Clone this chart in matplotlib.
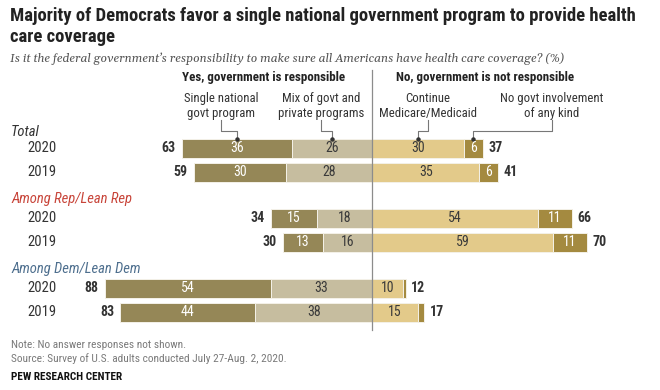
import matplotlib
matplotlib.use("Agg")
import matplotlib.pyplot as plt

# ---- data ----
groups = ["Total", "Among Rep/Lean Rep", "Among Dem/Lean Dem"]
years = ["2020", "2019"]
single = [36, 30, 15, 13, 54, 44]
mix = [26, 28, 18, 16, 33, 38]
cont = [30, 35, 54, 59, 10, 15]
nogovt = [6, 6, 11, 11, 1, 2]
yes_net = [63, 59, 34, 30, 88, 83]
no_net = [37, 41, 66, 70, 12, 17]
series_labels = ["Single national\ngovt program", "Mix of govt and\nprivate programs",
                 "Continue\nMedicare/Medicaid", "No govt involvement\nof any kind"]
headers = ["Yes, government is responsible", "No, government is not responsible"]
title_lines = ["Majority of Democrats favor a single national government program to provide health",
               "care coverage"]
subtitle = "Is it the federal government\u2019s responsibility to make sure all Americans have health care coverage? (%)"
note = "Note: No answer responses not shown."
source = "Source: Survey of U.S. adults conducted July 27-Aug. 2, 2020."
brand = "PEW RESEARCH CENTER"

# ---- layout ----
W, H = 660, 390
CX, SCALE = 372, 3.07           # pixel of zero line, pixels per percentage point
row_y = [148, 172, 218, 242, 288, 312]
group_y = [132, 199, 269]
BAR_H = 19

C_SINGLE = "#958757"
C_MIX = "#C6BD9F"
C_CONT = "#E3CA8A"
C_NOGOVT = "#A48A40"
SANS = "Roboto Condensed"

fig = plt.figure(figsize=(W / 100, H / 100), dpi=100)
ax = fig.add_axes([0, 0, 1, 1])
ax.set_xlim(-CX / SCALE, (W - CX) / SCALE)
ax.set_ylim(H, 0)
ax.axis("off")
renderer = fig.canvas.get_renderer()


def ftext(x, y, s, **kw):
    kw.setdefault("family", SANS)
    return fig.text(x / W, 1 - y / H, s, **kw)


def fit(t, width):
    fs = t.get_fontsize()
    w = t.get_window_extent(renderer).width
    t.set_fontsize(fs * width / w)
    return t.get_fontsize()


def px2d(x):
    return (x - CX) / SCALE


# bars
lefts_single = [-(s + m) for s, m in zip(single, mix)]
lefts_mix = [-m for m in mix]
for vals, lefts, col in [(single, lefts_single, C_SINGLE), (mix, lefts_mix, C_MIX),
                         (cont, [0] * len(cont), C_CONT), (nogovt, cont, C_NOGOVT)]:
    ax.barh(row_y, vals, left=lefts, height=BAR_H, color=col,
            edgecolor="#f4f1e8", linewidth=0.7)

lab_fs = 10
for i, y in enumerate(row_y):
    ax.text(lefts_single[i] + single[i] / 2, y, str(single[i]), ha="center", va="center",
            color="white", fontsize=lab_fs, family=SANS)
    ax.text(lefts_mix[i] + mix[i] / 2, y, str(mix[i]), ha="center", va="center",
            color="#3a3a3a", fontsize=lab_fs, family=SANS)
    ax.text(cont[i] / 2, y, str(cont[i]), ha="center", va="center",
            color="#3a3a3a", fontsize=lab_fs, family=SANS)
    if nogovt[i] >= 3:
        ax.text(cont[i] + nogovt[i] / 2, y, str(nogovt[i]), ha="center", va="center",
                color="white", fontsize=lab_fs, family=SANS)
    ax.text(lefts_single[i] - 2.0, y, str(yes_net[i]), ha="right", va="center",
            color="#333333", fontsize=lab_fs, fontweight="bold", family=SANS)
    ax.text(cont[i] + nogovt[i] + 1.8, y, str(no_net[i]), ha="left",
            va="center", color="#333333", fontsize=lab_fs, fontweight="bold", family=SANS)

# row labels
for i, y in enumerate(row_y):
    ax.text(px2d(27), y, years[i % 2], ha="left", va="center", color="#333333",
            fontsize=lab_fs + 0.5, family=SANS)
group_colors = ["#333333", "#C8453A", "#4E6F8E"]
for g, gy, gc in zip(groups, group_y, group_colors):
    ax.text(px2d(11), gy, g, ha="left", va="center", color=gc, fontsize=lab_fs + 0.5,
            style="italic", family=SANS)

# divider
ax.plot([0, 0], [70, 330], color="#8c8c8c", lw=0.9)

# headers
h1 = ftext(264, 78, headers[0], ha="center", va="center", fontsize=9, fontweight="bold",
           color="#222222")
hfs = fit(h1, 163)
ftext(485, 78, headers[1], ha="center", va="center", fontsize=hfs, fontweight="bold",
      color="#222222")

# series labels with leader lines
label_x = [221, 321, 428, 552]
seg_centers = [lefts_single[0] + single[0] / 2, lefts_mix[0] + mix[0] / 2,
               cont[0] / 2, cont[0] + nogovt[0] / 2]
probe = ftext(0, -50, "private programs", fontsize=9)
sfs = fit(probe, 86)
probe.remove()
for lx, sc, lab in zip(label_x, seg_centers, series_labels):
    ftext(lx, 106, lab, ha="center", va="center", fontsize=sfs, color="#333333",
          linespacing=1.15)
    xl = px2d(lx)
    ax.plot([xl, xl, sc, sc], [120, 131, 131, 138], color="#777777", lw=0.8)
    ax.plot([sc], [138.5], marker="o", ms=2.2, color="#333333")

# title, subtitle
t1 = ftext(10, 16, title_lines[0], ha="left", va="center", fontsize=13, fontweight="bold",
           color="#222222")
tfs = fit(t1, 626)
ftext(10, 37, title_lines[1], ha="left", va="center", fontsize=tfs, fontweight="bold",
      color="#222222")
st = ftext(10, 59, subtitle, ha="left", va="center", fontsize=9.2, style="italic",
           color="#555555", family="Gelasio")
fit(st, 554)

# footer
n1 = ftext(11, 345, note, ha="left", va="center", fontsize=7.4, color="#7a7a7a")
s1 = ftext(11, 359, source, ha="left", va="center", fontsize=7.4, color="#7a7a7a")
ffs = fit(s1, 275)
n1.set_fontsize(ffs)
b1 = ftext(11, 377, brand, ha="left", va="center", fontsize=7.4,
           fontweight="bold", color="#111111")
fit(b1, 112)

fig.savefig("out.png", dpi=100)
